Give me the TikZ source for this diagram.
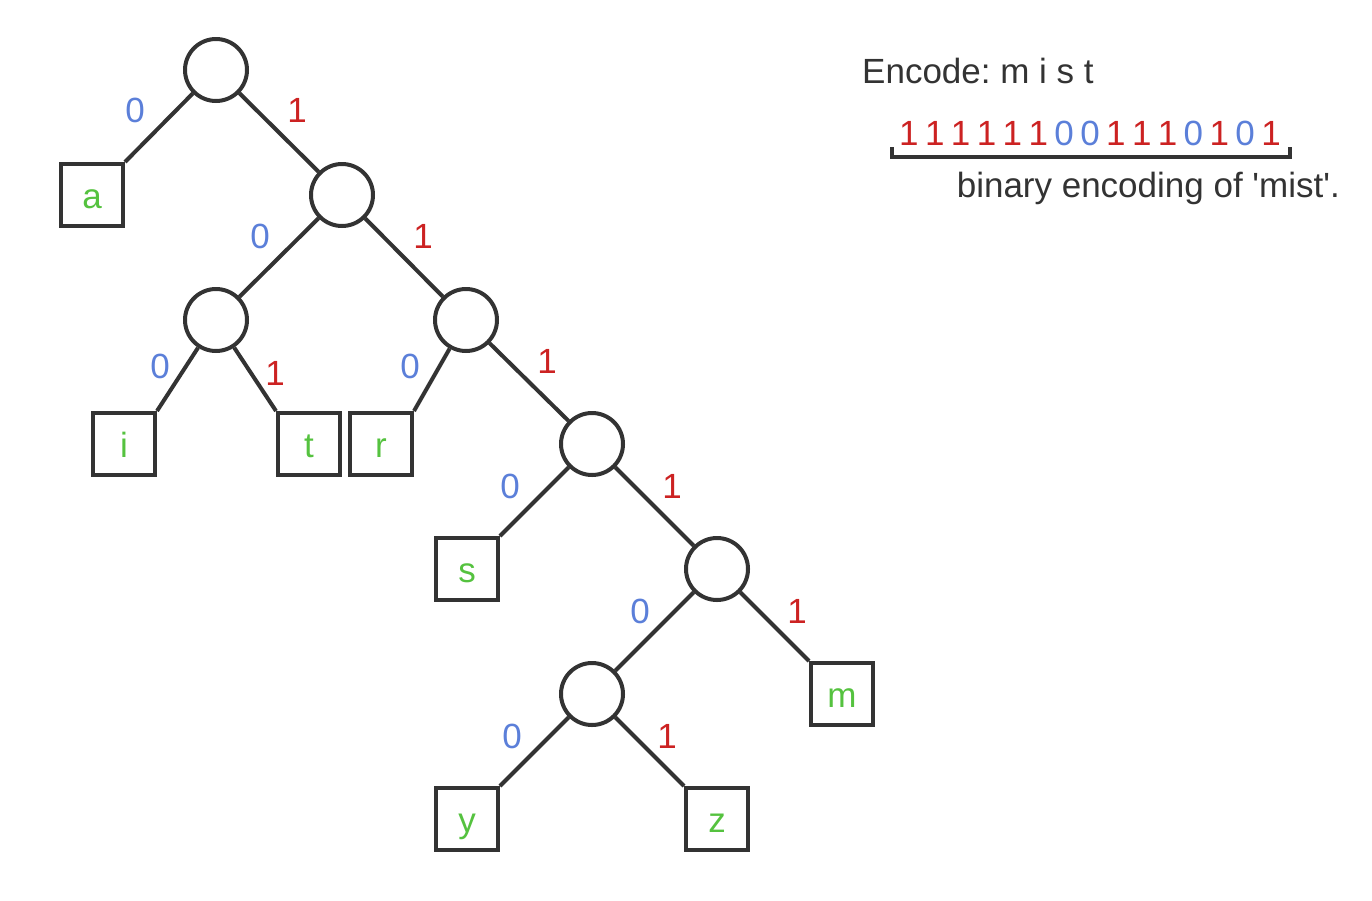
\documentclass[tikz,border=0pt]{standalone}
\usepackage{fontspec}
\setmainfont{Liberation Sans}[Ligatures=TeXOff]
\frenchspacing
\definecolor{ink}{HTML}{333333}
\definecolor{zero}{HTML}{5B7FD9}
\definecolor{one}{HTML}{CC2222}
\definecolor{leafc}{HTML}{55C23F}
\newcommand\bitZ{\textcolor{zero}{0}}
\newcommand\bitO{\textcolor{one}{1}}
\newcommand\bsep{\hspace{6.4pt}}
\begin{document}
\begin{tikzpicture}[x=1pt,y=-1pt,
  every node/.style={font=\fontsize{35}{42}\selectfont},
  inner/.style={circle,draw=ink,line width=4pt,minimum size=62pt,inner sep=0pt},
  leaf/.style={rectangle,draw=ink,line width=4pt,minimum size=62pt,inner sep=0pt,text=leafc,text height=26pt,text depth=0pt},
  edge/.style={draw=ink,line width=4pt},
  lz/.style={text=zero},
  lo/.style={text=one},
  txt/.style={text=ink,inner sep=0pt}]
\useasboundingbox (0,0) rectangle (1372,900);
% nodes
\node[inner] (root) at (216,70) {};
\node[leaf]  (a) at (92,195) {a};
\node[inner] (n1) at (342,195) {};
\node[inner] (n2) at (216,320) {};
\node[inner] (n3) at (466,320) {};
\node[leaf]  (i) at (124,444) {i};
\node[leaf]  (t) at (309,444) {t};
\node[leaf]  (r) at (381,444) {r};
\node[inner] (n4) at (592,444) {};
\node[leaf]  (s) at (467,569) {s};
\node[inner] (n5) at (717,569) {};
\node[inner] (n6) at (592,694) {};
\node[leaf]  (m) at (842,694) {m};
\node[leaf]  (y) at (467,819) {y};
\node[leaf]  (z) at (717,819) {z};
% edges
\draw[edge] (root) -- (a.north east);
\draw[edge] (root) -- (n1);
\draw[edge] (n1) -- (n2);
\draw[edge] (n1) -- (n3);
\draw[edge] (n2) -- (i.north east);
\draw[edge] (n2) -- (t.north west);
\draw[edge] (n3) -- (r.north east);
\draw[edge] (n3) -- (n4);
\draw[edge] (n4) -- (s.north east);
\draw[edge] (n4) -- (n5);
\draw[edge] (n5) -- (n6);
\draw[edge] (n5) -- (m.north west);
\draw[edge] (n6) -- (y.north east);
\draw[edge] (n6) -- (z.north west);
% edge labels
\node[lz] (l1) at (135,110) {0};
\node[lo] (l2) at (297,110) {1};
\node[lz] (l3) at (260,236) {0};
\node[lo] (l4) at (423,236) {1};
\node[lz] (l5) at (160,366) {0};
\node[lo] (l6) at (275,373) {1};
\node[lz] (l7) at (410,366) {0};
\node[lo] (l8) at (547,361) {1};
\node[lz] (l9) at (510,486) {0};
\node[lo] (l10) at (672,486) {1};
\node[lz] (l11) at (640,611) {0};
\node[lo] (l12) at (797,611) {1};
\node[lz] (l13) at (512,736) {0};
\node[lo] (l14) at (667,736) {1};
% encoding panel
\node[txt,anchor=base west] (enc) at (862,83) {Encode: m i s t};
\node[txt,anchor=base west] (bits) at (899,145) {\bitO\bsep\bitO\bsep\bitO\bsep\bitO\bsep\bitO\bsep\bitO\bsep\bitZ\bsep\bitZ\bsep\bitO\bsep\bitO\bsep\bitO\bsep\bitZ\bsep\bitO\bsep\bitZ\bsep\bitO};
\coordinate (bl) at (892,147);
\coordinate (br) at (1290,147);
\draw[draw=ink,line width=4pt] (bl) -- ++(0,10) -| (br);
\node[txt,anchor=base east] (cap) at (1340,197) {binary encoding of 'mist'.};
\end{tikzpicture}
\end{document}
